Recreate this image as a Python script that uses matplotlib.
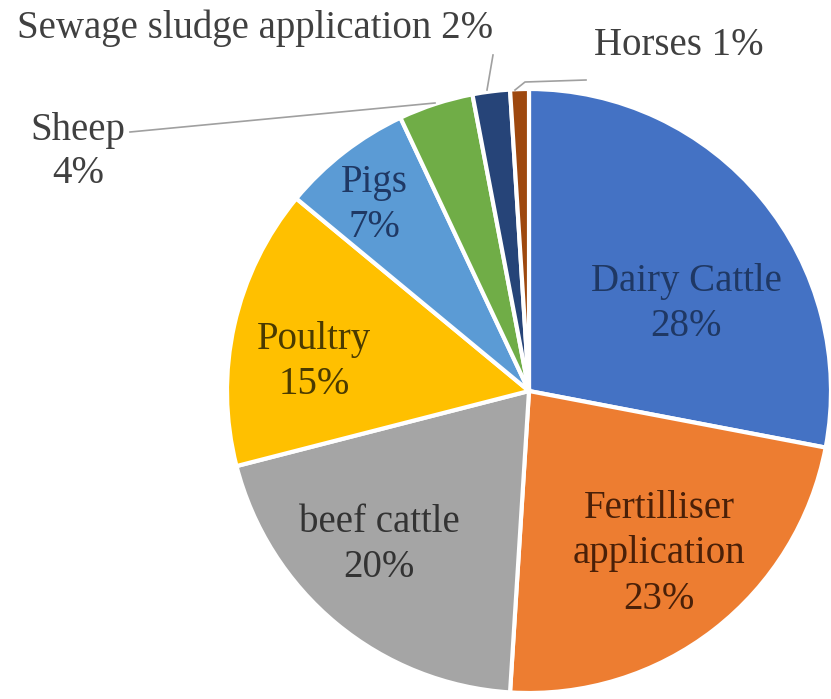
import matplotlib
matplotlib.use("Agg")
import matplotlib.pyplot as plt

labels = ["Dairy Cattle", "Fertilliser\napplication", "beef cattle", "Poultry",
          "Pigs", "Sheep", "Sewage sludge application", "Horses"]
values = [28, 23, 20, 15, 7, 4, 2, 1]
colors = ["#4472C4", "#ED7D31", "#A5A5A5", "#FFC000",
          "#5B9BD5", "#70AD47", "#264478", "#9E480E"]
text_colors = ["#1F3864", "#4A2008", "#333333", "#4A3A00", "#1F3864"]

plt.rcParams['font.family'] = ['Liberation Serif', 'DejaVu Serif']

W, H = 831, 699
cx, cy, R = 529, 391, 302
fig = plt.figure(figsize=(W / 100, H / 100), dpi=100)
ax = fig.add_axes([(cx - R) / W, (H - cy - R) / H, 2 * R / W, 2 * R / H])

wedges, _ = ax.pie(values, colors=colors, startangle=90, counterclock=False,
                   radius=1, wedgeprops=dict(edgecolor="white", linewidth=3))
ax.set_xlim(-1, 1)
ax.set_ylim(-1, 1)
ax.set_aspect("equal")
ax.axis("off")


def px(x, y):
    return (x - cx) / R, (cy - y) / R


fs = 28
ls = 1.32
# labels inside slices
inside = [(686, 304), (659, 554), (379, 545), (314, 362), (374, 205)]
for i, (x, y) in enumerate(inside):
    ax.text(*px(x, y), f"{labels[i]}\n{values[i]}%", ha="center", va="center",
            fontsize=fs, color=text_colors[i], linespacing=ls)

# outside labels with leader lines
ax.text(*px(78, 152), f"{labels[5]}\n{values[5]}%", ha="center", va="center",
        fontsize=fs, color="#404040", linespacing=1.2)
ax.plot(*zip(px(130, 132), px(435, 103)), color="#A0A0A0", lw=1.2, clip_on=False)

ax.text(*px(255, 28), f"{labels[6]} {values[6]}%", ha="center", va="center",
        fontsize=fs, color="#404040")
ax.plot(*zip(px(493, 55), px(487, 90)), color="#A0A0A0", lw=1.2, clip_on=False)

ax.text(*px(679, 45), f"{labels[7]} {values[7]}%", ha="center", va="center",
        fontsize=fs, color="#404040")
ax.plot(*zip(px(586, 80), px(525, 82), px(515, 90)), color="#A0A0A0", lw=1.2,
        clip_on=False)

fig.savefig("out.png", dpi=100)
